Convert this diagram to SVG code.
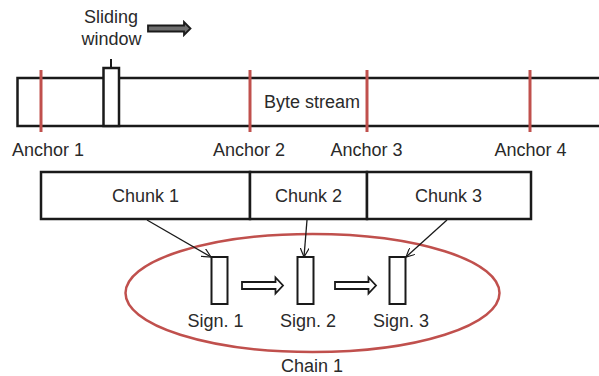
<svg xmlns="http://www.w3.org/2000/svg" width="599" height="376" viewBox="0 0 599 376">
  <style>
    text { font-family: "Liberation Sans", Arial, sans-serif; font-size: 18px; fill: #2a2a2a; text-anchor: middle; }
    .box { fill: #fff; stroke: #1a1a1a; stroke-width: 2.5; }
    .thin { fill: #fff; stroke: #1a1a1a; stroke-width: 2; }
    .anchor { stroke: #c0504d; stroke-width: 3; }
    .link { stroke: #1a1a1a; stroke-width: 1.3; fill: none; marker-end: url(#head); }
    .blk { stroke: #1a1a1a; stroke-width: 1.8; stroke-linejoin: miter; }
  </style>
  <defs>
    <marker id="head" viewBox="0 0 10 10" refX="10" refY="5" markerWidth="9" markerHeight="9" markerUnits="userSpaceOnUse" orient="auto">
      <path d="M0,0 L10,5 L0,10" fill="none" stroke="#1a1a1a" stroke-width="1.3"/>
    </marker>
  </defs>
  <rect width="599" height="376" fill="#fff"/>

  <!-- byte stream (open on the right) -->
  <g id="stream">
    <path d="M602,78 H17.5 V126 H602" fill="#fff" stroke="#1a1a1a" stroke-width="2.5"/>
    <text x="312" y="108">Byte stream</text>
  </g>

  <!-- sliding window -->
  <g id="window">
    <line x1="111" y1="59" x2="111" y2="68" stroke="#1a1a1a" stroke-width="2"/>
    <rect class="box" x="103.5" y="68" width="15.5" height="58"/>
    <text x="111" y="23">Sliding</text>
    <text x="111.5" y="45">window</text>
    <path class="blk" fill="#6e6e6e" d="M148,25.5 H184 V22 L190.5,28.5 L184,35 V31.5 H148 Z"/>
  </g>

  <!-- anchors -->
  <g id="anchor1">
    <line class="anchor" x1="41" y1="70" x2="41" y2="132"/>
    <text x="48" y="156">Anchor 1</text>
  </g>
  <g id="anchor2">
    <line class="anchor" x1="250" y1="70" x2="250" y2="132"/>
    <text x="249" y="156">Anchor 2</text>
  </g>
  <g id="anchor3">
    <line class="anchor" x1="367" y1="70" x2="367" y2="132"/>
    <text x="366.5" y="156">Anchor 3</text>
  </g>
  <g id="anchor4">
    <line class="anchor" x1="530" y1="70" x2="530" y2="132"/>
    <text x="530.5" y="156">Anchor 4</text>
  </g>

  <!-- chunks -->
  <g id="chunk1">
    <rect class="box" x="41" y="172" width="209" height="47"/>
    <text x="145.5" y="202">Chunk 1</text>
  </g>
  <g id="chunk2">
    <rect class="box" x="250" y="172" width="117" height="47"/>
    <text x="308.5" y="202">Chunk 2</text>
  </g>
  <g id="chunk3">
    <rect class="box" x="367" y="172" width="164" height="47"/>
    <text x="448.5" y="202">Chunk 3</text>
  </g>

  <!-- chain -->
  <g id="chain1">
    <ellipse cx="312.5" cy="293" rx="187" ry="59" fill="none" stroke="#c0504d" stroke-width="2.5"/>
    <text x="312" y="372">Chain 1</text>
  </g>

  <!-- signatures -->
  <g id="sign1">
    <rect class="thin" x="211.5" y="257" width="16" height="47"/>
    <text x="215.5" y="327">Sign. 1</text>
  </g>
  <g id="sign2">
    <rect class="thin" x="297.5" y="257" width="16" height="47"/>
    <text x="308" y="327">Sign. 2</text>
  </g>
  <g id="sign3">
    <rect class="thin" x="389.5" y="257" width="16" height="47"/>
    <text x="401" y="327">Sign. 3</text>
  </g>

  <!-- connectors -->
  <g id="connectors">
    <line class="link" x1="147" y1="220" x2="211" y2="257"/>
    <line class="link" x1="307" y1="220" x2="304" y2="257"/>
    <line class="link" x1="447" y1="220" x2="406" y2="257"/>
    <path class="blk" fill="#fff" d="M242,282 H275.5 V277.5 L283,285.5 L275.5,293.5 V289 H242 Z"/>
    <path class="blk" fill="#fff" d="M335,282 H368.5 V277.5 L376,285.5 L368.5,293.5 V289 H335 Z"/>
  </g>
</svg>
